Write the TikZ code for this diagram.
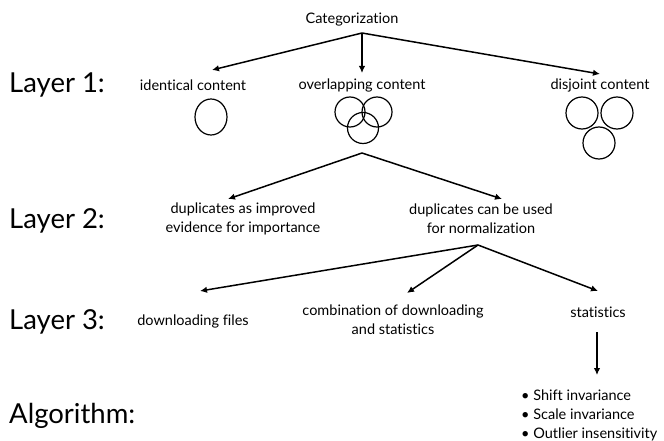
\documentclass[tikz,border=0pt]{standalone}
\usepackage{fontspec}
\setmainfont{Lato}[Ligatures=NoCommon]
\usetikzlibrary{arrows.meta}
\begin{document}
\begin{tikzpicture}[x=1pt,y=-1pt,
  lbl/.style={font=\fontsize{14.5}{19}\selectfont, inner sep=0pt, align=center},
  bul/.style={font=\fontsize{14.5}{19}\selectfont, inner sep=0pt, anchor=base west},
  layer/.style={font=\fontsize{27.5}{32}\selectfont, inner sep=0pt, anchor=base west},
  arr/.style={line width=1.5pt, -{Latex[length=7pt,width=6.5pt]}},
  ring/.style={line width=1.2pt}
]
\useasboundingbox (0,0) rectangle (664,441);
% layer labels
\node[layer] (L1) at (9,93) {Layer 1:};
\node[layer] (L2) at (9,228) {Layer 2:};
\node[layer] (L3) at (9,329) {Layer 3:};
\node[layer] (AL) at (9,423) {Algorithm:};
% top
\node[lbl] (cat) at (352,20) {Categorization};
\coordinate (c0) at (362,33);
\node[lbl] (ident) at (193,85) {identical content};
\node[lbl] (over) at (362,85) {overlapping content};
\node[lbl] (disj) at (600,85) {disjoint content};
\coordinate (t1) at (212,70);
\coordinate (t2) at (362,73);
\coordinate (t3) at (600,74);
\draw[arr] (c0) -- (t1);
\draw[arr] (c0) -- (t2);
\draw[arr] (c0) -- (t3);
% circles
\draw[ring] (211,117) ellipse [x radius=16, y radius=18];
\draw[ring] (350,112) circle [radius=15];
\draw[ring] (377,112) circle [radius=15];
\draw[ring] (363,128) circle [radius=15.5];
\draw[ring] (582,113) circle [radius=16];
\draw[ring] (617,113) circle [radius=16];
\draw[ring] (599,143) circle [radius=16];
% layer 2
\coordinate (c1) at (362,153);
\node[lbl] (dup1) at (243,219) {duplicates as improved\\evidence for importance};
\node[lbl] (dup2) at (481,219) {duplicates can be used\\for normalization};
\coordinate (t4) at (228,199);
\coordinate (t5) at (502,199);
\draw[arr] (c1) -- (t4);
\draw[arr] (c1) -- (t5);
% layer 3
\coordinate (c2) at (478,245);
\node[lbl] (down) at (193,321) {downloading files};
\node[lbl] (comb) at (393,320) {combination of downloading\\and statistics};
\node[lbl] (stat) at (598,312) {statistics};
\coordinate (t6) at (200,291);
\coordinate (t7) at (407,293);
\coordinate (t8) at (598,291);
\draw[arr] (c2) -- (t6);
\draw[arr] (c2) -- (t7);
\draw[arr] (c2) -- (t8);
% algorithm
\coordinate (s0) at (597,332);
\coordinate (s1) at (597,375);
\draw[line width=1.2pt, -{Latex[length=7pt,width=6.5pt]}] (s0) -- (s1);
\node[bul] (b1) at (521,400) {• Shift invariance};
\node[bul] (b2) at (521,419) {• Scale invariance};
\node[bul] (b3) at (521,438) {• Outlier insensitivity};
\end{tikzpicture}
\end{document}
